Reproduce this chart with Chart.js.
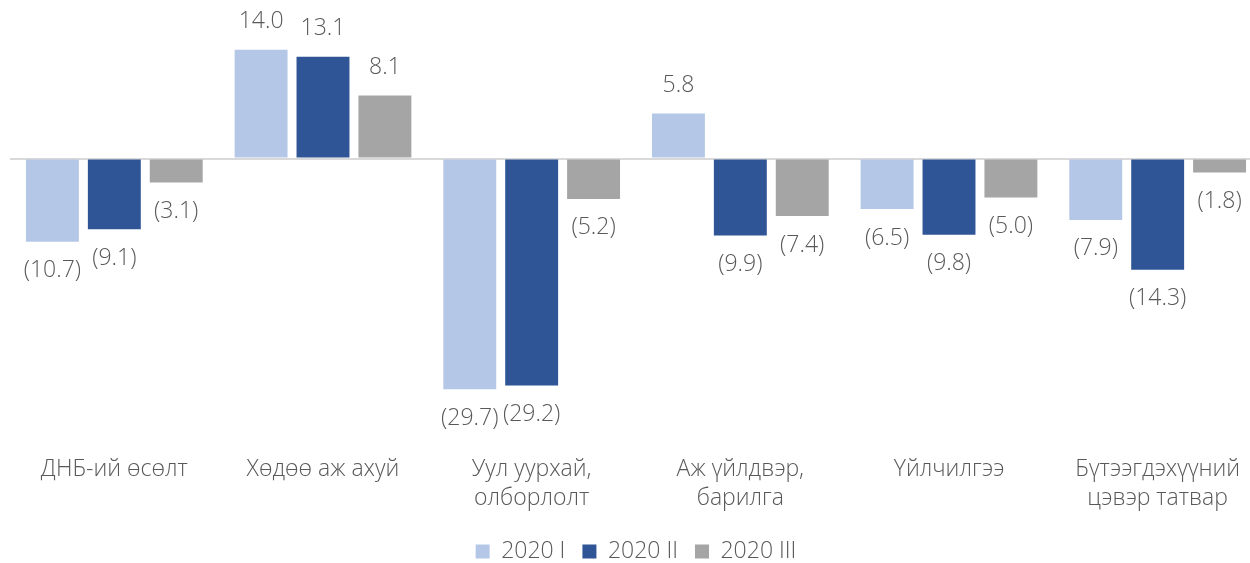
<!DOCTYPE html>
<html>
<head>
<meta charset="utf-8">
<script src="https://cdn.jsdelivr.net/npm/chart.js@4"></script>
<style>
  html, body { margin: 0; padding: 0; background: #fff; overflow: hidden; }
  #wrap { width: 1262px; height: 573px; }
</style>
</head>
<body>
<div id="wrap"><canvas id="chart"></canvas></div>
<script>
const categories = [
    "ДНБ-ий өсөлт",
    "Хөдөө аж ахуй",
    ["Уул уурхай,", "олборлолт"],
    ["Аж үйлдвэр,", "барилга"],
    "Үйлчилгээ",
    ["Бүтээгдэхүүний", "цэвэр татвар"]
];
const seriesNames = ["2020 I", "2020 II", "2020 III"];
const q1 = [-10.7, 14.0, -29.7, 5.8, -6.5, -7.9];
const q2 = [-9.1, 13.1, -29.2, -9.9, -9.8, -14.3];
const q3 = [-3.1, 8.1, -5.2, -7.4, -5.0, -1.8];
const colors = ["#B4C7E7", "#2F5597", "#A5A5A5"];
const textColor = "#595959";
const fontFamily = "'Open Sans', sans-serif";

// value labels above/below each bar, like Excel data labels
const valueLabels = {
    id: "valueLabels",
    afterDatasetsDraw(chart) {
        const ctx = chart.ctx;
        ctx.save();
        ctx.font = "300 23px " + fontFamily;
        ctx.fillStyle = textColor;
        ctx.textAlign = "center";
        ctx.textBaseline = "middle";
        chart.data.datasets.forEach((ds, i) => {
            const meta = chart.getDatasetMeta(i);
            meta.data.forEach((bar, j) => {
                const v = ds.data[j];
                const txt = v < 0 ? "(" + Math.abs(v).toFixed(1) + ")" : v.toFixed(1);
                const y = v < 0 ? bar.y + 29 : bar.y - 28;
                ctx.fillText(txt, bar.x, y);
            });
        });
        ctx.restore();
    }
};

new Chart(document.getElementById("chart"), {
    type: "bar",
    data: {
        labels: categories,
        datasets: [q1, q2, q3].map((d, i) => ({
            label: seriesNames[i],
            data: d,
            backgroundColor: colors[i],
            categoryPercentage: 0.89,
            barPercentage: 0.855
        }))
    },
    options: {
        responsive: true,
        maintainAspectRatio: false,
        animation: false,
        layout: { padding: { left: 10, right: 0, top: 0, bottom: 0 } },
        plugins: {
            legend: {
                position: "bottom",
                labels: {
                    boxWidth: 14,
                    boxHeight: 14,
                    padding: 17,
                    color: textColor,
                    font: { family: fontFamily, size: 23, weight: "300" }
                }
            },
            tooltip: { enabled: false }
        },
        scales: {
            x: {
                grid: { display: false },
                border: { display: false },
                ticks: {
                    color: textColor,
                    padding: 10,
                    maxRotation: 0,
                    autoSkip: false,
                    font: { family: fontFamily, size: 23, weight: "300", lineHeight: 1.26 }
                }
            },
            y: {
                min: -35.84,
                max: 20.4,
                border: { display: false },
                ticks: { display: false },
                grid: {
                    drawTicks: false,
                    lineWidth: 2,
                    color: (c) => c.tick && c.tick.value === 0 ? "#D9D9D9" : "rgba(0,0,0,0)"
                }
            }
        }
    },
    plugins: [valueLabels]
});
</script>
</body>
</html>
